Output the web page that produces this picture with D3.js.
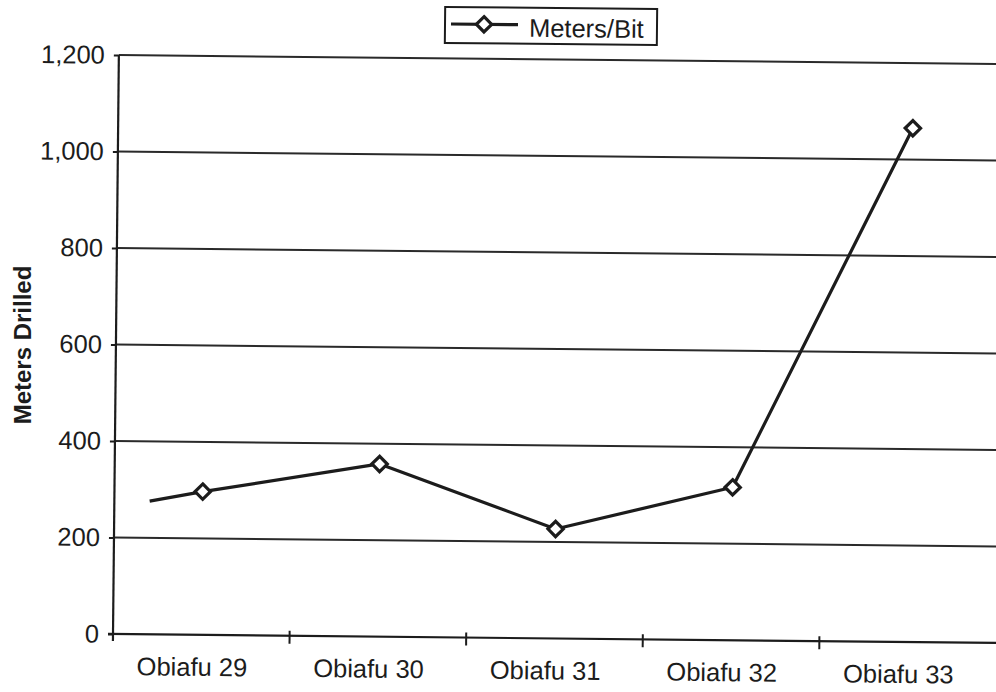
<!DOCTYPE html>
<html>
<head>
<meta charset="utf-8">
<script src="https://cdn.jsdelivr.net/npm/d3@7"></script>
<style>
  html, body { margin: 0; padding: 0; background: #ffffff; }
  svg { display: block; font-family: "Liberation Sans", Arial, sans-serif; }
</style>
</head>
<body>
<svg id="chart" width="996" height="692"></svg>
<script>
// ---- data ----
const categories = ["Obiafu 29", "Obiafu 30", "Obiafu 31", "Obiafu 32", "Obiafu 33"];
const metersPerBit = [297, 358, 227, 317, 1065];
const leadInValue = 276;           // line enters from the left edge, no marker
const yTicks = [0, 200, 400, 600, 800, 1000, 1200];
const seriesName = "Meters/Bit";
const yTitle = "Meters Drilled";

// ---- layout ----
const W = 996, H = 692;
const plotLeft = 113, plotBottom = 634, plotTop = 55, plotRight = 996;
const tilt = 0.58; // scanned page is slightly rotated
const ink = "#1c1c1c";

const svg = d3.select("#chart");
const g = svg.append("g").attr("transform", `rotate(${tilt},${plotLeft},${plotBottom})`);

const x = d3.scaleBand().domain(categories).range([plotLeft, plotRight]).padding(0);
const y = d3.scaleLinear().domain([0, 1200]).range([plotBottom, plotTop]);
const fmt = d3.format(",");

// gridlines
g.append("g").selectAll("line").data(yTicks.filter(d => d > 0)).join("line")
  .attr("x1", plotLeft).attr("x2", W + 40)
  .attr("y1", d => y(d)).attr("y2", d => y(d))
  .attr("stroke", "#2a2a2a").attr("stroke-width", 2);

// y axis
const yAxis = d3.axisLeft(y).tickValues(yTicks).tickFormat(fmt).tickSize(5).tickPadding(9);
const ya = g.append("g").attr("transform", `translate(${plotLeft},0)`).call(yAxis);
ya.select(".domain").remove();
ya.selectAll(".tick line").attr("stroke", ink).attr("stroke-width", 2);
ya.selectAll(".tick text").attr("fill", ink).style("font-size", "25.5px")
  .attr("font-family", "'Liberation Sans', Arial, sans-serif");
g.append("line").attr("x1", plotLeft).attr("x2", plotLeft).attr("y1", plotTop).attr("y2", plotBottom + 7)
  .attr("stroke", ink).attr("stroke-width", 2.2);

// x axis
g.append("line").attr("x1", plotLeft - 5).attr("x2", W + 40).attr("y1", plotBottom).attr("y2", plotBottom)
  .attr("stroke", ink).attr("stroke-width", 2.2);
const xAxis = d3.axisBottom(x).tickSize(0).tickPadding(0);
const xa = g.append("g").attr("transform", `translate(0,${plotBottom})`).call(xAxis);
xa.select(".domain").remove();
xa.selectAll(".tick text").attr("fill", ink).style("font-size", "25.5px")
  .attr("font-family", "'Liberation Sans', Arial, sans-serif")
  .attr("dx", -9).attr("y", 41).attr("dy", 0);
// category boundary ticks
g.append("g").selectAll("line").data(categories.slice(1)).join("line")
  .attr("x1", d => x(d)).attr("x2", d => x(d))
  .attr("y1", plotBottom - 5).attr("y2", plotBottom + 8)
  .attr("stroke", ink).attr("stroke-width", 2);

// series line
const cx = d => x(d) + x.bandwidth() / 2;
const pts = categories.map((c, i) => [cx(c), y(metersPerBit[i])]);
const leadPt = [cx(categories[0]) - x.bandwidth() * 0.3, y(leadInValue)];
g.append("path").datum([leadPt, ...pts])
  .attr("d", d3.line())
  .attr("fill", "none").attr("stroke", ink).attr("stroke-width", 3.2)
  .attr("stroke-linejoin", "round");

const diamond = d3.symbol().type(d3.symbolDiamond2).size(150);
g.append("g").selectAll("path").data(pts).join("path")
  .attr("transform", d => `translate(${d[0]},${d[1]})`)
  .attr("d", diamond)
  .attr("fill", "#ffffff").attr("stroke", ink).attr("stroke-width", 3.2);

// y title
svg.append("text")
  .attr("transform", `translate(31,345) rotate(-90)`)
  .attr("text-anchor", "middle")
  .attr("fill", ink).style("font-size", "24px").style("font-weight", "bold")
  .text(yTitle);

// legend
const lg = svg.append("g").attr("transform", `rotate(${tilt},551,26)`);
lg.append("rect").attr("x", 445).attr("y", 8).attr("width", 212).attr("height", 36)
  .attr("fill", "#fff").attr("stroke", ink).attr("stroke-width", 2);
lg.append("line").attr("x1", 451).attr("x2", 518).attr("y1", 25).attr("y2", 25)
  .attr("stroke", ink).attr("stroke-width", 3.2);
lg.append("path").attr("transform", "translate(484,25)").attr("d", diamond)
  .attr("fill", "#fff").attr("stroke", ink).attr("stroke-width", 3.2);
lg.append("text").attr("x", 529).attr("y", 37).attr("fill", ink)
  .style("font-size", "25.5px").text(seriesName);
</script>
</body>
</html>
